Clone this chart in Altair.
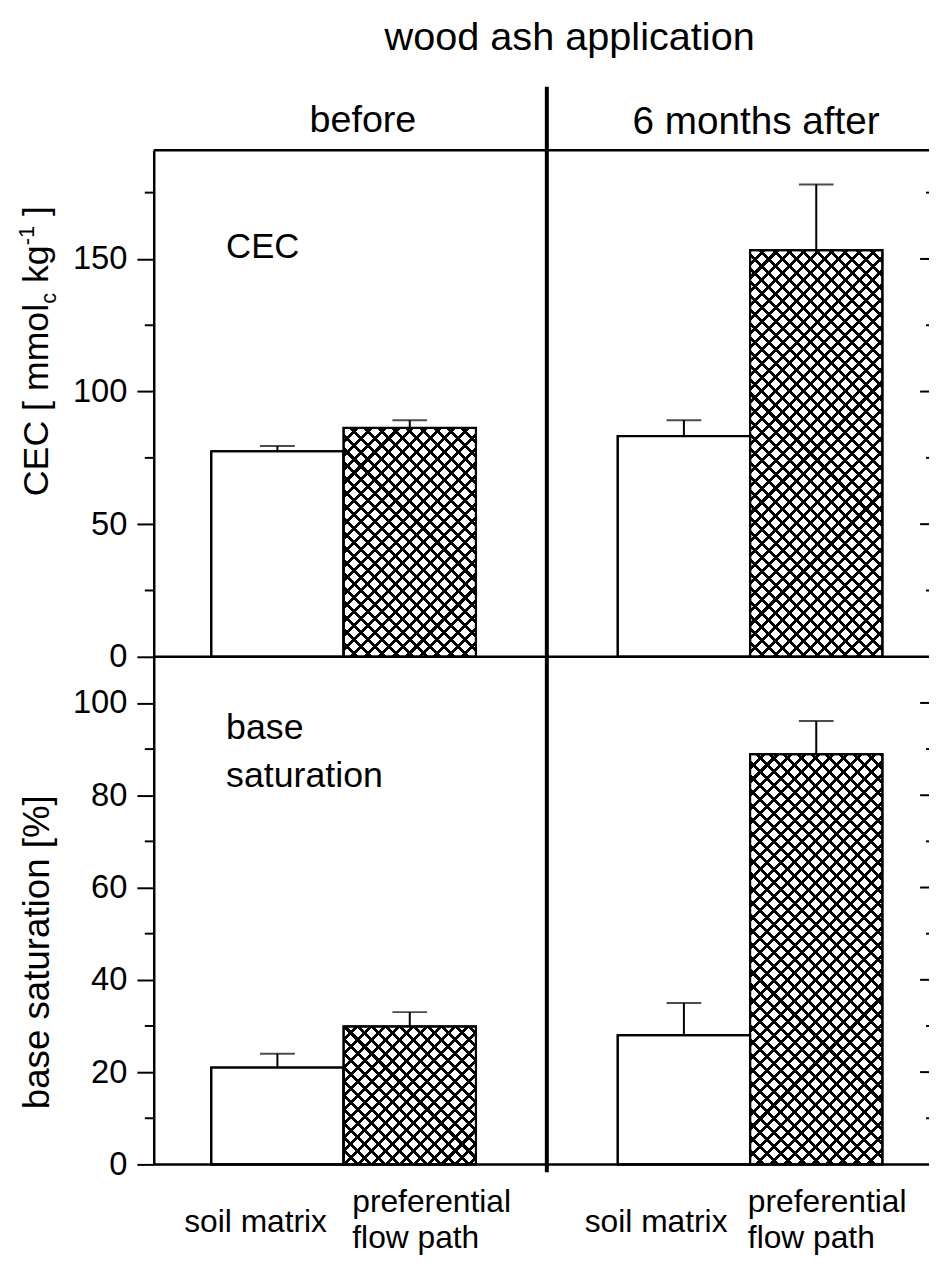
import math
import altair as alt
import pandas as pd

# ---------------- data ----------------
groups = ["before", "6 months after"]
types = ["soil matrix", "preferential flow path"]
cec_mean = [77.5, 86.3, 83.2, 153.3]
cec_err = [2.0, 2.9, 6.0, 24.8]
bs_mean = [21.0, 29.9, 28.0, 88.9]
bs_err = [3.0, 3.1, 7.0, 7.2]
cec_major = [0, 50, 100, 150]
cec_minor = [25, 75, 125, 175]
bs_major = [0, 20, 40, 60, 80, 100]
bs_minor = [10, 30, 50, 70, 90]
type_label_lines = [["soil matrix"], ["preferential", "flow path"]]
main_title = "wood ash application"
cec_label = "CEC"
bs_label_lines = ["base", "saturation"]
cec_axis_title = [("CEC [ mmol", "main", 0), ("c", "sub", 0), ("kg", "main", 1), ("-1", "sup", 0), ("]", "main", 1)]
bs_axis_title = "base saturation [%]"

rows = []
for gi, g in enumerate(groups):
    for ti, t in enumerate(types):
        i = gi * 2 + ti
        rows.append(dict(group=g, type=t, cec=cec_mean[i], cec_hi=cec_mean[i] + cec_err[i],
                         bs=bs_mean[i], bs_hi=bs_mean[i] + bs_err[i]))
df = pd.DataFrame(rows)
one = pd.DataFrame({"k": [0]})

# ---------------- layout / style ----------------
FONT = "Liberation Sans"
W, H1, H2 = 784, 511, 512
CEC_MAX, BS_MAX = 191, 110
STEP, BAND = 410.0, 267.0
LEFT_GAP = 58.0
PI = 1 - BAND / STEP
REST = W - STEP * (2 - PI)
PO = REST / (2 * STEP)
AL = LEFT_GAP / REST
DIV_X = LEFT_GAP + STEP - (STEP - BAND) / 2
RIGHT = 782

X = alt.X("group:N", sort=groups,
          scale=alt.Scale(domain=groups, paddingInner=PI, paddingOuter=PO, align=AL), axis=None)
XO = alt.XOffset("type:N", sort=types, scale=alt.Scale(domain=types, paddingInner=0, paddingOuter=0))

AW = {"C": .722, "E": .667, " ": .278, "[": .278, "]": .278, "m": .833, "o": .556, "l": .222,
      "c": .5, "k": .5, "g": .556, "-": .333, "1": .556}


def tw(s, size):
    return sum(AW.get(ch, .556) for ch in s) * size


def hatch_fill(w, h, direction, period=9.9, lw=2.9):
    D = (w + h) / math.sqrt(2)
    k = (w + h) / (w * w + h * h)
    if direction == "down":
        x1, y1, x2, y2 = 0.0, 1.0, w * k, 1.0 - h * k
    else:
        x1, y1, x2, y2 = 0.0, 0.0, w * k, h * k
    T = "rgba(0,0,0,0)"
    stops = [{"offset": 0.0, "color": T}]
    c = 0.0
    while c - lw / 2 < D:
        a = round(min(max((c - lw / 2) / D, 0.0), 1.0), 5)
        b = round(min(max((c + lw / 2) / D, 0.0), 1.0), 5)
        stops += [{"offset": a, "color": T}, {"offset": a, "color": "black"},
                  {"offset": b, "color": "black"}, {"offset": b, "color": T}]
        c += period
    stops.append({"offset": 1.0, "color": T})
    return {"gradient": "linear", "x1": x1, "y1": y1, "x2": x2, "y2": y2, "stops": stops}


def txt(text, x, y, size, align="left", angle=0, line_height=None):
    kw = dict(text=text, fontSize=size, font=FONT, color="black", align=align, baseline="alphabetic")
    if angle:
        kw["angle"] = angle
    if line_height:
        kw["lineHeight"] = line_height
    return alt.Chart(one).mark_text(**kw).encode(x=alt.value(x), y=alt.value(y))


def hline(y, sw=2.5, x0=0, x1=RIGHT):
    return alt.Chart(one).mark_rule(color="black", strokeWidth=sw).encode(
        x=alt.value(x0), x2=alt.value(x1), y=alt.value(y))


def panel(val, hi, ymax, H, major, minor):
    ysc = alt.Scale(domain=[0, ymax], nice=False)
    yax = alt.Axis(values=major, title=None, format="d", grid=False, ticks=True, tickSize=17, tickWidth=2,
                   tickColor="black", domainWidth=2.5, domainColor="black", labelFont=FONT,
                   labelFontSize=33, labelColor="black", labelPadding=10, labelOverlap=False)

    def Y(f):
        return alt.Y(f"{f}:Q", scale=ysc, axis=yax)

    L = [alt.Chart(df).mark_bar(fill="white", stroke="black", strokeWidth=2).encode(x=X, xOffset=XO, y=Y(val))]
    for i, r in df.iterrows():
        if r["type"] != types[1]:
            continue
        h = r[val] * H / ymax
        for d in ("up", "down"):
            L.append(alt.Chart(df.iloc[[i]].reset_index(drop=True))
                     .mark_bar(fill=hatch_fill(BAND / 2, h, d), strokeWidth=0)
                     .encode(x=X, xOffset=XO, y=Y(val)))
    L.append(alt.Chart(df).mark_bar(fill="transparent", stroke="black", strokeWidth=2.2)
             .encode(x=X, xOffset=XO, y=Y(val)))
    L.append(alt.Chart(df).mark_rule(color="black", strokeWidth=2)
             .encode(x=X, xOffset=XO, y=Y(val), y2=alt.Y2(f"{hi}:Q")))
    L.append(alt.Chart(df).mark_tick(color="black", thickness=2, size=35, orient="horizontal")
             .encode(x=X, xOffset=XO, y=Y(hi)))
    mdf = pd.DataFrame({"v": minor})
    rdf = pd.DataFrame({"v": [v for v in major if v > 0]})
    L.append(alt.Chart(mdf).mark_rule(color="black", strokeWidth=2)
             .encode(x=alt.value(-9), x2=alt.value(0), y=Y("v")))
    L.append(alt.Chart(rdf).mark_rule(color="black", strokeWidth=2)
             .encode(x=alt.value(RIGHT - 9), x2=alt.value(RIGHT), y=Y("v")))
    L.append(alt.Chart(mdf).mark_rule(color="black", strokeWidth=2)
             .encode(x=alt.value(RIGHT - 3), x2=alt.value(RIGHT), y=Y("v")))
    L.append(hline(H))
    return L


def divider(y0, y1):
    return alt.Chart(one).mark_rule(color="black", strokeWidth=4).encode(
        x=alt.value(DIV_X), y=alt.value(y0), y2=alt.value(y1))


# ---------------- top panel (CEC) ----------------
top_layers = panel("cec", "cec_hi", CEC_MAX, H1, cec_major, cec_minor)
top_layers.append(hline(0))
top_layers.append(divider(-64, H1))
top_layers.append(alt.Chart(one).mark_rule(color="white", strokeWidth=1).encode(
    x=alt.value(-146), x2=alt.value(-145.5), y=alt.value(-137)))
top_layers.append(txt(main_title, 419.5, -101, 40, align="center"))
top_layers.append(txt(groups[0], 211, -18, 38, align="center"))
top_layers.append(txt(groups[1], 607.5, -16, 39, align="center"))
top_layers.append(txt(cec_label, 73, 109, 35))

MAIN, SMALL = 36, 22
SHIFT = {"main": 0, "sub": 8, "sup": -14}
cum = 0.0
x0, y0 = -107, 349
for text, kind, gap in cec_axis_title:
    cum += tw(" ", MAIN) * gap
    fs = MAIN if kind == "main" else SMALL
    top_layers.append(txt(text, x0 + SHIFT[kind], y0 - cum, fs, align="left", angle=270))
    cum += tw(text, fs)

top = alt.layer(*top_layers).properties(width=W, height=H1)

# ---------------- bottom panel (base saturation) ----------------
bot_layers = panel("bs", "bs_hi", BS_MAX, H2, bs_major, bs_minor)
bot_layers.append(divider(0, H2 + 8))
bot_layers.append(txt(bs_label_lines, 73, 83, 36, line_height=48))
bot_layers.append(txt(bs_axis_title, -106, 298, 37, align="center", angle=270))

DX = [[-22, -58], [-28, -69]]
for gi, g in enumerate(groups):
    for ti, t in enumerate(types):
        sub = df[(df["group"] == g) & (df["type"] == t)].reset_index(drop=True)
        lines = type_label_lines[ti]
        if len(lines) == 1:
            mk = alt.Chart(sub).mark_text(text=lines[0], fontSize=32, font=FONT, color="black",
                                          align="center", baseline="alphabetic", dx=DX[gi][ti])
            yv = 580
        else:
            mk = alt.Chart(sub).mark_text(text=lines, fontSize=32, font=FONT, color="black",
                                          align="left", baseline="alphabetic", lineHeight=36, dx=DX[gi][ti])
            yv = 560
        bot_layers.append(mk.encode(x=X, xOffset=XO, y=alt.value(yv)))

bottom = alt.layer(*bot_layers).properties(width=W, height=H2)

chart = (
    alt.vconcat(top, bottom, spacing=0, bounds="flush")
    .resolve_scale(x="independent", xOffset="independent", y="independent")
    .properties(padding=0, autosize=alt.AutoSizeParams(type="pad"), background="white")
    .configure_view(stroke=None)
)

chart.save("out.html", embed_options={"renderer": "svg", "actions": False})
